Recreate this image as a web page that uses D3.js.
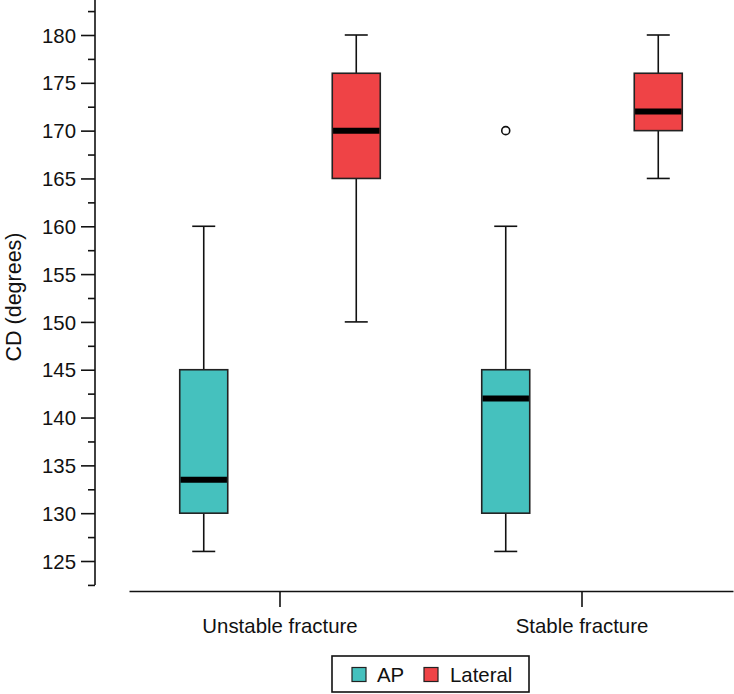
<!DOCTYPE html>
<html><head><meta charset="utf-8">
<script src="https://cdn.jsdelivr.net/npm/d3@7"></script>
<style>body{margin:0;background:#fff}svg{display:block}text{font-family:"Liberation Sans",Arial,Helvetica,sans-serif;fill:#111}</style>
</head><body>
<script>
const groups = ["Unstable fracture", "Stable fracture"];
const series = ["AP", "Lateral"];
const seriesColors = ["#45c1be", "#ef4346"];
// [group, series, low whisker, q1, median, q3, high whisker]
const boxStats = [
  ["Unstable fracture", "AP", 126, 130, 133.5, 145, 160],
  ["Unstable fracture", "Lateral", 150, 165, 170, 176, 180],
  ["Stable fracture", "AP", 126, 130, 142, 145, 160],
  ["Stable fracture", "Lateral", 165, 170, 172, 176, 180]
];
const outliers = [["Stable fracture", "AP", 170]];
const majorTicks = [125, 130, 135, 140, 145, 150, 155, 160, 165, 170, 175, 180];
const minorTicks = [122.5, 127.5, 132.5, 137.5, 142.5, 147.5, 152.5, 157.5, 162.5, 167.5, 172.5, 177.5, 182.5];

const W = 734, H = 694;
const FS = 20.4;
const svg = d3.select("body").append("svg").attr("width", W).attr("height", H);

const y = d3.scaleLinear().domain([125, 180]).range([561, 35]);
const x0 = d3.scaleBand().domain(groups).range([129, 733]).padding(0);
const x1 = d3.scalePoint().domain(series).range([0, x0.bandwidth()]).padding(0.49);
const color = d3.scaleOrdinal().domain(series).range(seriesColors);
const boxW = 48, capW = 23;

// Y axis
const yAxisX = 95;
svg.append("line").attr("x1", yAxisX).attr("x2", yAxisX).attr("y1", y(122.5)).attr("y2", 0)
  .attr("stroke", "#111").attr("stroke-width", 1.6);
const yAxis = svg.append("g").attr("transform", `translate(${yAxisX},0)`)
  .call(d3.axisLeft(y).tickValues(majorTicks).tickSize(14).tickPadding(5).tickFormat(d3.format("d")));
yAxis.select(".domain").remove();
yAxis.selectAll(".tick line").attr("stroke", "#111").attr("stroke-width", 1.6);
yAxis.selectAll(".tick text").attr("font-size", FS).attr("dy", "0.35em").style("font-family", '"Liberation Sans",Arial,sans-serif').attr("fill", "#111");
const yMinor = svg.append("g").attr("transform", `translate(${yAxisX},0)`)
  .call(d3.axisLeft(y).tickValues(minorTicks).tickSize(7).tickFormat(""));
yMinor.select(".domain").remove();
yMinor.selectAll(".tick line").attr("stroke", "#111").attr("stroke-width", 1.6);

svg.append("text").attr("transform", `translate(21,297) rotate(-90)`)
  .attr("text-anchor", "middle").attr("font-size", 21.5).text("CD (degrees)");

// X axis
const xAxisY = 591;
const xAxis = svg.append("g").attr("transform", `translate(0,${xAxisY})`)
  .call(d3.axisBottom(x0).tickSize(16).tickPadding(11.5).tickSizeOuter(0));
xAxis.select(".domain").attr("stroke", "#111").attr("stroke-width", 1.6);
xAxis.selectAll(".tick line").attr("stroke", "#111").attr("stroke-width", 1.6);
xAxis.selectAll(".tick text").attr("font-size", FS).style("font-family", '"Liberation Sans",Arial,sans-serif').attr("fill", "#111");

// Boxes
const bx = svg.append("g");
boxStats.forEach(([g, s, lo, q1, med, q3, hi]) => {
  const cx = x0(g) + x1(s);
  const gg = bx.append("g");
  gg.append("line").attr("x1", cx).attr("x2", cx).attr("y1", y(hi)).attr("y2", y(q3)).attr("stroke", "#111").attr("stroke-width", 1.6);
  gg.append("line").attr("x1", cx).attr("x2", cx).attr("y1", y(q1)).attr("y2", y(lo)).attr("stroke", "#111").attr("stroke-width", 1.6);
  [hi, lo].forEach(v => gg.append("line").attr("x1", cx - capW/2).attr("x2", cx + capW/2).attr("y1", y(v)).attr("y2", y(v)).attr("stroke", "#111").attr("stroke-width", 1.6));
  gg.append("rect").attr("x", cx - boxW/2).attr("y", y(q3)).attr("width", boxW).attr("height", y(q1) - y(q3))
    .attr("fill", color(s)).attr("stroke", "#222").attr("stroke-width", 1.6);
  gg.append("line").attr("x1", cx - boxW/2 + 0.8).attr("x2", cx + boxW/2 - 0.8).attr("y1", y(med)).attr("y2", y(med)).attr("stroke", "#000").attr("stroke-width", 6);
});
outliers.forEach(([g, s, v]) => {
  svg.append("circle").attr("cx", x0(g) + x1(s)).attr("cy", y(v)).attr("r", 4)
    .attr("fill", "none").attr("stroke", "#111").attr("stroke-width", 1.6);
});

// Legend
const lg = svg.append("g").attr("transform", "translate(332,656)");
lg.append("rect").attr("width", 197).attr("height", 36).attr("fill", "#fff").attr("stroke", "#111").attr("stroke-width", 1.6);
const legendPos = [[20, 45], [92, 118]];
series.forEach((s, i) => {
  lg.append("rect").attr("x", legendPos[i][0]).attr("y", 11.5).attr("width", 14).attr("height", 14)
    .attr("fill", color(s)).attr("stroke", "#222").attr("stroke-width", 1.2);
  lg.append("text").attr("x", legendPos[i][1]).attr("y", 25.5).attr("font-size", FS).text(s);
});
</script>
</body></html>
